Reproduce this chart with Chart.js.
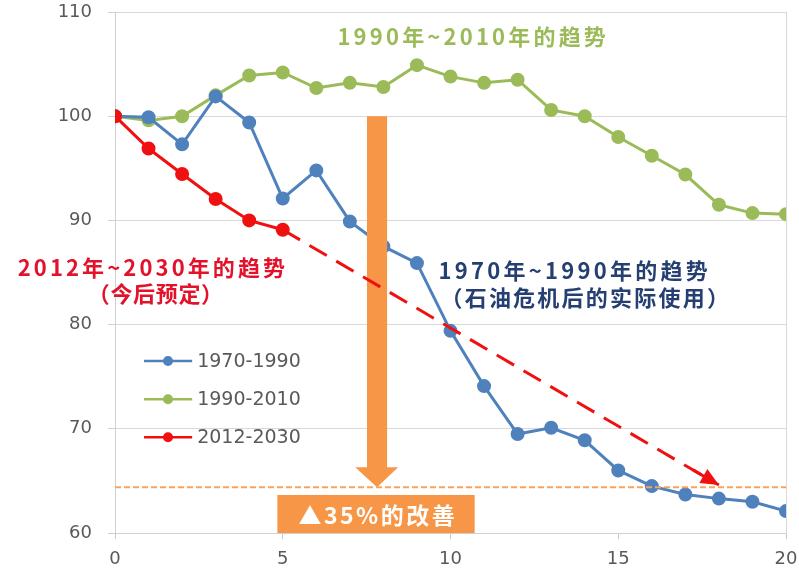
<!DOCTYPE html>
<html>
<head>
<meta charset="utf-8">
<script src="https://cdn.jsdelivr.net/npm/chart.js@4.4.1/dist/chart.umd.min.js"></script>
<style>
  html, body { margin: 0; padding: 0; background: #fff; }
  canvas { display: block; }
</style>
</head>
<body>
<canvas id="trendChart" width="799" height="573"></canvas>
<script>
// index years 0..20 (x axis)
const years = [0, 1, 2, 3, 4, 5, 6, 7, 8, 9, 10, 11, 12, 13, 14, 15, 16, 17, 18, 19, 20];
const series1970 = [100, 99.9, 97.3, 101.9, 99.4, 92.1, 94.8, 89.9, 87.5, 85.9, 79.4, 74.1, 69.5, 70.1, 68.9, 66.0, 64.5, 63.7, 63.3, 63.0, 62.1];
const series1990 = [100, 99.6, 100.0, 102.0, 103.9, 104.2, 102.7, 103.2, 102.8, 104.9, 103.8, 103.2, 103.5, 100.6, 100.0, 98.0, 96.2, 94.4, 91.5, 90.7, 90.6];
const years2012 = [0, 1, 2, 3, 4, 5];
const series2012 = [100, 96.9, 94.45, 92.05, 90.0, 89.1];
// planned trend (dashed, ends in an arrow)
const planX = [5, 18];
const planY = [89.1, 64.6];
const targetLevel = 64.4;
const yTicks = [60, 70, 80, 90, 100, 110];
const xTicks = [0, 5, 10, 15, 20];

const legendLabels = ['1970-1990', '1990-2010', '2012-2030'];

const BLUE = '#4f81bd';
const GREEN = '#9bbb59';
const RED = '#f01010';
const ORANGE = '#f79646';

function toPoints(xs, ys) {
  return xs.map((x, i) => ({ x, y: ys[i] }));
}

// text labels placed in data coordinates (x1..x2 span, y centre)
const notes = [
  { lines: ['1990年~2010年的趋势'], x1: [6.63], x2: [14.63], y: [107.6], color: GREEN },
  { lines: ['2012年~2030年的趋势', '（今后预定）'], x1: [-2.9, -0.81], x2: [5.07, 3.22], y: [85.43, 83.0], color: '#e3122b' },
  { lines: ['1970年~1990年的趋势', '（石油危机后的实际使用）'], x1: [9.64, 9.7], x2: [17.67, 18.3], y: [85.14, 82.55], color: '#253f73' }
];

function fitText(ctx, text, x1, x2, cy, font, color) {
  ctx.font = font;
  ctx.letterSpacing = '0px';
  const w = ctx.measureText(text).width;
  const n = [...text].length;
  const ls = n > 1 ? (x2 - x1 - w) / (n - 1) : 0;
  ctx.letterSpacing = ls + 'px';
  ctx.fillStyle = color;
  ctx.textAlign = 'left';
  ctx.textBaseline = 'middle';
  ctx.fillText(text, x1, cy);
  ctx.letterSpacing = '0px';
}

const arrowPlugin = {
  id: 'bigArrow',
  afterDatasetDraw(chart, args) {
    if (chart.data.datasets[args.index].label !== '1970-1990') return;
    const { ctx, scales: { x, y } } = chart;
    const l = x.getPixelForValue(7.51), r = x.getPixelForValue(8.11);
    const hl = x.getPixelForValue(7.16), hr = x.getPixelForValue(8.44);
    const cx = x.getPixelForValue(7.81);
    const top = y.getPixelForValue(100);
    const base = y.getPixelForValue(66.3);
    const tip = y.getPixelForValue(targetLevel);
    ctx.save();
    ctx.fillStyle = ORANGE;
    ctx.beginPath();
    ctx.moveTo(l, top);
    ctx.lineTo(r, top);
    ctx.lineTo(r, base);
    ctx.lineTo(hr, base);
    ctx.lineTo(cx, tip);
    ctx.lineTo(hl, base);
    ctx.lineTo(l, base);
    ctx.closePath();
    ctx.fill();
    ctx.restore();
  }
};

const annotationPlugin = {
  id: 'annotations',
  afterDatasetsDraw(chart) {
    const { ctx, scales: { x, y } } = chart;
    ctx.save();

    // arrow head on the planned trend
    const meta = chart.getDatasetMeta(chart.data.datasets.findIndex(d => d.label === 'plan'));
    const p0 = meta.data[0], p1 = meta.data[1];
    const ang = Math.atan2(p1.y - p0.y, p1.x - p0.x);
    const cos = Math.cos(ang), sin = Math.sin(ang);
    const len = 18, half = 8;
    ctx.strokeStyle = RED;
    ctx.lineWidth = 3;
    ctx.beginPath();
    ctx.moveTo(p1.x - 30 * cos, p1.y - 30 * sin);
    ctx.lineTo(p1.x - 10 * cos, p1.y - 10 * sin);
    ctx.stroke();
    ctx.fillStyle = RED;
    ctx.beginPath();
    ctx.moveTo(p1.x, p1.y);
    ctx.lineTo(p1.x - len * cos + half * sin, p1.y - len * sin - half * cos);
    ctx.lineTo(p1.x - len * cos - half * sin, p1.y - len * sin + half * cos);
    ctx.closePath();
    ctx.fill();

    // improvement box
    const bl = x.getPixelForValue(4.84), br = x.getPixelForValue(10.72);
    const bt = y.getPixelForValue(63.65), bb = y.getPixelForValue(60);
    ctx.fillStyle = ORANGE;
    ctx.fillRect(bl, bt, br - bl, bb - bt);
    fitText(ctx, '▲35%的改善', bl + 21, br - 20, (bt + bb) / 2 + 1, 'bold 23px "Noto Sans CJK SC"', '#ffffff');

    // trend notes
    notes.forEach(n => {
      n.lines.forEach((t, i) => {
        fitText(ctx, t, x.getPixelForValue(n.x1[i]), x.getPixelForValue(n.x2[i]), y.getPixelForValue(n.y[i]),
          'bold 22px "Noto Sans CJK SC"', n.color);
      });
    });

    // legend inside the plot
    const colors = [BLUE, GREEN, RED];
    const rows = [76.5, 72.83, 69.19];
    legendLabels.forEach((label, i) => {
      const py = y.getPixelForValue(rows[i]);
      const lx1 = x.getPixelForValue(0.866), lx2 = x.getPixelForValue(2.3), mx = x.getPixelForValue(1.58);
      ctx.strokeStyle = colors[i];
      ctx.lineWidth = 2.5;
      ctx.beginPath();
      ctx.moveTo(lx1, py);
      ctx.lineTo(lx2, py);
      ctx.stroke();
      ctx.fillStyle = colors[i];
      ctx.beginPath();
      ctx.arc(mx, py, 5, 0, Math.PI * 2);
      ctx.fill();
      ctx.font = '19px "DejaVu Sans"';
      ctx.fillStyle = '#595959';
      ctx.textAlign = 'left';
      ctx.textBaseline = 'middle';
      ctx.fillText(label, x.getPixelForValue(2.45), py + 1);
    });
    ctx.restore();
  }
};

new Chart(document.getElementById('trendChart'), {
  type: 'line',
  data: {
    datasets: [
      {
        label: 'plan',
        data: toPoints(planX, planY),
        borderColor: RED,
        borderWidth: 3,
        borderDash: [20, 11],
        pointRadius: 0,
        order: 0
      },
      {
        label: '2012-2030',
        data: toPoints(years2012, series2012),
        borderColor: RED,
        backgroundColor: RED,
        borderWidth: 3,
        pointRadius: 5.5,
        order: 1
      },
      {
        label: 'target',
        data: toPoints([years[0], years[years.length - 1]], [targetLevel, targetLevel]),
        borderColor: '#f7a45e',
        borderWidth: 2,
        borderDash: [6, 3],
        pointRadius: 0,
        order: 2
      },
      {
        label: '1970-1990',
        data: toPoints(years, series1970),
        borderColor: BLUE,
        backgroundColor: BLUE,
        borderWidth: 3,
        pointRadius: 5.5,
        order: 3
      },
      {
        label: '1990-2010',
        data: toPoints(years, series1990),
        borderColor: GREEN,
        backgroundColor: GREEN,
        borderWidth: 3,
        pointRadius: 5.5,
        order: 4
      }
    ]
  },
  options: {
    responsive: false,
    animation: false,
    layout: { padding: { top: 12, right: 13, left: 0, bottom: 0 } },
    plugins: {
      legend: { display: false },
      tooltip: { enabled: false }
    },
    scales: {
      x: {
        type: 'linear',
        min: 0,
        max: 20,
        afterFit: scale => {
          scale.height = 40;
          scale.paddingLeft = 0;
          scale.paddingRight = 0;
        },
        afterBuildTicks: scale => { scale.ticks = xTicks.map(v => ({ value: v })); },
        ticks: { color: '#595959', font: { family: 'DejaVu Sans', size: 18 }, padding: 10 },
        grid: {
          color: c => (c.tick && c.tick.value === 20 ? '#d9d9d9' : 'rgba(0,0,0,0)'),
          tickColor: '#c8c8c8',
          tickLength: 6
        },
        border: { color: '#d0d0d0' }
      },
      y: {
        min: 60,
        max: 110,
        afterFit: scale => {
          scale.width = 115;
          scale.paddingTop = 0;
          scale.paddingBottom = 0;
        },
        afterBuildTicks: scale => { scale.ticks = yTicks.map(v => ({ value: v })); },
        ticks: { color: '#595959', font: { family: 'DejaVu Sans', size: 18 }, padding: 16 },
        grid: { color: '#d9d9d9', tickColor: '#d0d0d0', tickLength: 7 },
        border: { color: '#d0d0d0' }
      }
    }
  },
  plugins: [arrowPlugin, annotationPlugin]
});
</script>
</body>
</html>
